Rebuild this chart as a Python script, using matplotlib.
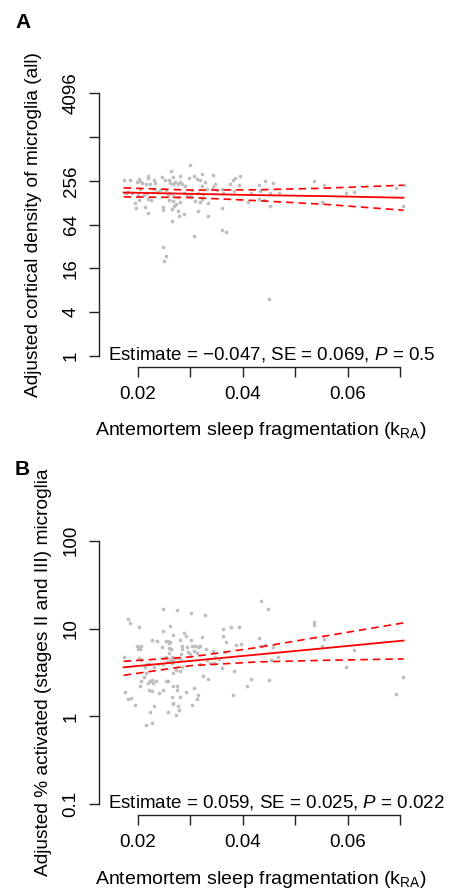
import matplotlib
matplotlib.use('Agg')
import matplotlib.pyplot as plt

plt.rcParams['font.family'] = ['Liberation Sans', 'DejaVu Sans']
plt.rcParams['mathtext.fontset'] = 'custom'
plt.rcParams['mathtext.rm'] = 'Liberation Sans'
plt.rcParams['mathtext.it'] = 'Liberation Sans:italic'

# panel A: cortical density of microglia (all)
a_kra = [0.0300, 0.0264, 0.0173, 0.0185, 0.0202, 0.0204, 0.0198, 0.0208, 0.0220, 0.0220,
         0.0216, 0.0223, 0.0230, 0.0233, 0.0246, 0.0252, 0.0260, 0.0267, 0.0262, 0.0268,
         0.0271, 0.0276, 0.0281, 0.0280, 0.0284, 0.0290, 0.0298, 0.0307, 0.0313, 0.0322,
         0.0319, 0.0322, 0.0329, 0.0332, 0.0343, 0.0348, 0.0344, 0.0360, 0.0376, 0.0381,
         0.0386, 0.0395, 0.0393, 0.0432, 0.0442, 0.0457, 0.0537, 0.0555, 0.0693, 0.0707,
         0.0178, 0.0182, 0.0176, 0.0188, 0.0204, 0.0201, 0.0211, 0.0217, 0.0220, 0.0226,
         0.0230, 0.0236, 0.0242, 0.0254, 0.0257, 0.0262, 0.0260, 0.0267, 0.0268, 0.0276,
         0.0281, 0.0273, 0.0270, 0.0288, 0.0293, 0.0303, 0.0302, 0.0310, 0.0314, 0.0319,
         0.0322, 0.0325, 0.0333, 0.0351, 0.0363, 0.0361, 0.0384, 0.0410, 0.0416, 0.0434,
         0.0432, 0.0440, 0.0453, 0.0452, 0.0469, 0.0551, 0.0598, 0.0612, 0.0706, 0.0194,
         0.0202, 0.0197, 0.0214, 0.0220, 0.0248, 0.0248, 0.0265, 0.0276, 0.0278, 0.0265,
         0.0289, 0.0314, 0.0333, 0.0307, 0.0360, 0.0369, 0.0249, 0.0253, 0.0250, 0.0450]
a_density = [429, 348, 261, 267, 273, 256, 248, 243, 300, 276,
             235, 235, 267, 240, 291, 267, 261, 291, 240, 235,
             248, 235, 300, 248, 230, 216, 276, 300, 270, 316,
             267, 216, 248, 201, 313, 230, 212, 195, 235, 261,
             276, 297, 228, 228, 256, 240, 256, 228, 205, 223,
             172, 181, 177, 175, 195, 163, 163, 172, 142, 139,
             201, 181, 191, 191, 163, 172, 139, 158, 136, 154,
             132, 125, 115, 172, 163, 191, 158, 135, 172, 132,
             146, 168, 128, 191, 177, 110, 186, 130, 172, 186,
             145, 139, 177, 116, 177, 130, 175, 181, 115, 128,
             139, 107, 112, 93, 112, 103, 104, 98, 84, 72,
             89, 99, 85, 45, 54, 50, 32, 24, 20, 6]

# panel B: % activated microglia
b_kra = [0.0435, 0.0449, 0.0248, 0.0275, 0.0301, 0.0328, 0.0181, 0.0185, 0.0202, 0.0536,
         0.0537, 0.0248, 0.0262, 0.0289, 0.0292, 0.0267, 0.0257, 0.0253, 0.0262, 0.0259,
         0.0227, 0.0237, 0.0280, 0.0301, 0.0322, 0.0362, 0.0377, 0.0393, 0.0363, 0.0369,
         0.0387, 0.0396, 0.0432, 0.0433, 0.0442, 0.0555, 0.0551, 0.0198, 0.0202, 0.0206,
         0.0200, 0.0204, 0.0246, 0.0259, 0.0263, 0.0260, 0.0266, 0.0254, 0.0250, 0.0271,
         0.0267, 0.0276, 0.0285, 0.0284, 0.0293, 0.0295, 0.0304, 0.0309, 0.0314, 0.0307,
         0.0313, 0.0299, 0.0319, 0.0331, 0.0343, 0.0366, 0.0347, 0.0345, 0.0354, 0.0338,
         0.0360, 0.0384, 0.0332, 0.0319, 0.0324, 0.0334, 0.0283, 0.0282, 0.0266, 0.0285,
         0.0272, 0.0280, 0.0267, 0.0261, 0.0255, 0.0248, 0.0239, 0.0230, 0.0217, 0.0214,
         0.0221, 0.0216, 0.0211, 0.0227, 0.0219, 0.0224, 0.0229, 0.0234, 0.0253, 0.0257,
         0.0267, 0.0274, 0.0204, 0.0206, 0.0173, 0.0203, 0.0206, 0.0221, 0.0227, 0.0248,
         0.0240, 0.0274, 0.0292, 0.0281, 0.0266, 0.0267, 0.0267, 0.0276, 0.0278, 0.0273,
         0.0257, 0.0230, 0.0224, 0.0194, 0.0181, 0.0187, 0.0176, 0.0215, 0.0227, 0.0304,
         0.0308, 0.0312, 0.0314, 0.0409, 0.0416, 0.0381, 0.0451, 0.0454, 0.0457, 0.0467,
         0.0598, 0.0612, 0.0693, 0.0706]
b_pct = [20.7, 16.8, 16.9, 16.3, 15.0, 14.4, 12.9, 11.5, 10.4, 11.8,
         11.1, 9.3, 10.7, 8.9, 8.3, 8.5, 7.3, 7.2, 7.1, 6.9,
         7.4, 7.2, 7.4, 7.5, 8.1, 10.0, 10.4, 10.3, 8.3, 7.1,
         6.5, 6.7, 7.8, 6.3, 6.5, 7.6, 6.3, 6.4, 6.2, 6.4,
         5.8, 5.9, 6.2, 6.0, 5.8, 5.3, 4.8, 4.8, 4.6, 4.6,
         4.4, 4.6, 6.4, 5.9, 6.1, 5.4, 6.3, 6.3, 6.2, 5.6,
         5.3, 5.1, 6.25, 5.8, 5.6, 5.4, 4.7, 4.1, 4.5, 4.1,
         3.6, 3.3, 4.4, 3.9, 2.9, 2.7, 5.1, 4.4, 4.1, 3.7,
         3.4, 3.3, 3.1, 4.4, 4.2, 4.0, 3.9, 3.7, 4.0, 3.7,
         3.9, 3.1, 2.8, 2.6, 2.4, 2.5, 2.4, 2.5, 2.5, 2.5,
         2.2, 2.2, 2.2, 2.5, 4.7, 4.6, 4.4, 2.0, 1.96, 2.0,
         1.83, 1.98, 1.88, 1.68, 1.65, 1.44, 1.38, 1.30, 1.17, 1.04,
         1.13, 1.30, 1.11, 1.34, 1.59, 1.62, 1.9, 0.80, 0.85, 1.34,
         2.1, 1.58, 1.77, 2.2, 2.7, 1.77, 2.6, 4.4, 6.1, 4.8,
         3.7, 5.7, 1.81, 2.8]

# fitted lines with 95% bands
fit_kra = [0.0173, 0.0300, 0.0427, 0.0555, 0.0707]
a_fit = [177, 170, 163, 158, 150]
a_upper = [205, 191, 193, 203, 223]
a_lower = [154, 151, 137, 122, 101]
b_fit = [3.62, 4.28, 5.05, 5.97, 7.30]
b_upper = [4.24, 4.75, 6.07, 8.18, 11.6]
b_lower = [2.94, 3.78, 4.17, 4.35, 4.51]

x_ticks = [0.02, 0.03, 0.04, 0.05, 0.06, 0.07]
x_labels = ['0.02', '', '0.04', '', '0.06', '']
a_ticks = [1, 4, 16, 64, 256, 1024, 4096]
a_labels = ['1', '4', '16', '64', '256', '', '4096']
b_ticks = [0.1, 1, 10, 100]
b_labels = ['0.1', '1', '10', '100']

W, H = 453, 889
fig = plt.figure(figsize=(W / 100, H / 100), dpi=100)
fs = 13.5
xlab = r'Antemortem sleep fragmentation (k$_{\rm RA}$)'


def panel(top, bottom, x, y, fit, up, lo, yt, ylab, ybase, ylim, ylabel, ylab_x, stat, letter):
    ax = fig.add_axes([99 / W, 1 - bottom / H, (423 - 99) / W, (bottom - top) / H])
    ax.scatter(x, y, s=7, color='#bebebe', linewidths=0, zorder=2)
    ax.plot(fit_kra, fit, color='red', lw=1.3, zorder=3)
    ax.plot(fit_kra, up, color='red', lw=1.2, dashes=(4.5, 3), zorder=3)
    ax.plot(fit_kra, lo, color='red', lw=1.2, dashes=(4.5, 3), zorder=3)
    ax.set_yscale('log', base=ybase)
    ax.set_ylim(ylim)
    ax.set_xlim(0.0126, 0.0744)
    ax.set_yticks(yt)
    ax.set_yticklabels(ylab)
    ax.minorticks_off()
    ax.set_xticks(x_ticks)
    ax.set_xticklabels(x_labels)
    for s in ['top', 'right']:
        ax.spines[s].set_visible(False)
    ax.spines['left'].set_bounds(yt[0], yt[-1])
    ax.spines['bottom'].set_bounds(0.02, 0.07)
    for s in ['left', 'bottom']:
        ax.spines[s].set_color('#222222')
        ax.spines[s].set_linewidth(1.0)
    ax.tick_params(direction='out', length=7, width=1.0, color='#222222',
                   labelsize=fs, pad=7)
    ax.tick_params(axis='y', labelrotation=90)
    for t in ax.get_yticklabels():
        t.set_va('center')
    ax.set_xlabel(xlab, fontsize=14)
    ax.xaxis.set_label_coords(0.5, -0.19)
    ax.set_ylabel(ylabel, fontsize=13.8)
    ax.yaxis.set_label_coords(ylab_x, 0.5)
    ax.text(0.028, 0.025, stat, transform=ax.transAxes, fontsize=fs, ha='left', va='baseline')
    fig.text(15 / W, 1 - (top - 70) / H, letter, fontsize=15, fontweight='bold', va='top')
    return ax


panel(82.8, 366.5, a_kra, a_density, a_fit, a_upper, a_lower, a_ticks, a_labels, 2,
      (2 ** -0.48, 2 ** 12.48), 'Adjusted cortical density of microglia (all)', -0.176,
      r'Estimate = −0.047, SE = 0.069, $\it{P}$ = 0.5', 'A')
panel(530.1, 814.9, b_kra, b_pct, b_fit, b_upper, b_lower, b_ticks, b_labels, 10,
      (10 ** -1.12, 10 ** 2.12), 'Adjusted % activated (stages II and III) microglia', -0.145,
      r'Estimate = 0.059, SE = 0.025, $\it{P}$ = 0.022', 'B')

fig.savefig('out.png', dpi=100)
